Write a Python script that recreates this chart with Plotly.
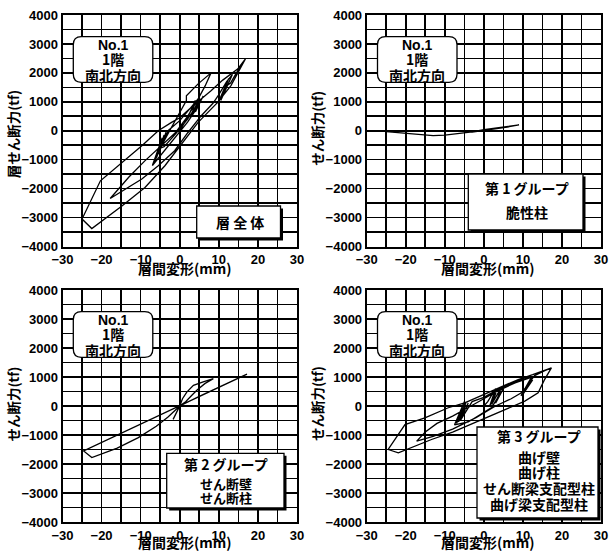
import plotly.graph_objects as go

W, H = 609, 554

# ---------------- data ----------------
x_ticks = [-30, -20, -10, 0, 10, 20, 30]
y_ticks = [-4000, -3000, -2000, -1000, 0, 1000, 2000, 3000, 4000]

# Panel 1: 層全体  (story drift mm, story shear tf)
tl_drift = [0, 2, 4, 3, 5, 4, 6, 4.5, 2, -1, -4, -7, -4.5, -6.5, -4, -6, -3.5, -5.5, -3, 0, 2.5,
            5, 3.5, 5.5, 2, -1, -4, -5, -2.1, 1.7, 1.7, 4.7, 8, 6.5, 4.5, 2, -1, -5, -9, -13,
            -17.8, -9.7, -5.5, -1.3, 2.1, 5.5, 8.5, 10, 12, 13.5, 10.5, 12.5, 9.8, 11.5, 13,
            14.5, 16.8, 14.8, 11, 8, 3.4, 0, -2.1, -5.5, -9.7, -14.8, -20.3, -25, -22.5, -14.8,
            -8.9, -3.8, 0, 4.7, 9.7, 13.1, 16.8]
tl_shear = [0, 450, 1050, 500, 1150, 650, 1200, 800, 300, -200, -700, -1200, -250, -1100, -150,
            -950, -50, -800, 0, 350, 750, 1150, 650, 1100, 400, -100, -550, -600, 120, 1040,
            1210, 1620, 2000, 1550, 1050, 500, -50, -550, -1050, -1600, -2340, -1670, -1210,
            -690, -60, 520, 950, 1250, 1700, 1950, 1050, 1800, 950, 1500, 1650, 2000, 2480,
            2130, 1750, 1380, 865, 450, 290, 0, -520, -1095, -1730, -3050, -3380, -2600, -1960,
            -1210, -520, 290, 980, 1560, 2480]

# Panel 2: 第1グループ 脆性柱
tr_drift = [-25, -20, -16, -13, -10, -6, -3, 0, 3, 6, 9, 6, 3, 0, -3]
tr_shear = [-30, -80, -140, -170, -150, -100, -40, 40, 100, 160, 200, 130, 70, 10, -50]

# Panel 3: 第2グループ せん断壁・せん断柱
bl_drift = [0, 0.7, 1.8, 3.5, 6, 8.6, 6.5, 4.5, 3.1, 1.5, 0, -0.8, -1.7, -1.2, 0, 5, 10, 17.2,
            10, 0, -10, -24.6, -22.5, -16, -10.6, -6, -3, 0]
bl_shear = [0, 250, 480, 710, 830, 940, 780, 560, 370, 150, 0, -200, -460, -300, 0, 330, 650,
            1100, 650, 0, -640, -1550, -1780, -1450, -1090, -700, -380, 0]

# Panel 4: 第3グループ
br_drift = [0, 1, 3, 1.5, 3.5, 2, 4.5, 3, 5, 2, -1, -4, -7.5, -5, -7, -4.5, -6.5, -4, -6, -3, 0,
            4, 8, 12.2, 9.5, 12, 10, 12.5, 9.5, 7, 3, -2, -8, -13, -17.2, -15, -12, -8, -4, 0,
            4, 8, 10.5, 12.5, 11, 13, 15.6, 17.3, 15.5, 13.9, 10.5, 5.4, -2.3, -8, -13.4, -18,
            -21.9, -24.5, -22, -20.2, -15.1, -9.1, -4.9, 1.9, 8.8, 12.5, 15.6, 17.3]
br_shear = [0, 150, 600, 0, 600, 50, 650, 100, 600, -50, -300, -550, -650, 150, -600, 150, -550,
            100, -500, 150, 300, 600, 850, 1000, 350, 950, 400, 900, 450, 250, 0, -400, -800,
            -1050, -1212, -900, -600, -350, -50, 250, 550, 800, 900, 1000, 700, 1050, 1220,
            1317, 900, 454, 167, -121, -580, -900, -1155, -1400, -1615, -1500, -1000, -640,
            -410, -60, 110, 500, 914, 1080, 1220, 1317]

x_title = "層間変形(mm)"
y_titles = ["層せん断力(tf)", "せん断力(tf)", "せん断力(tf)", "せん断力(tf)"]
id_lines = ["No.1", "1階", "南北方向"]
group_texts = [
    ["層 全 体"],
    ["第 1 グループ", "脆性柱"],
    ["第 2 グループ", "せん断壁", "せん断柱"],
    ["第 3 グループ", "曲げ壁", "曲げ柱", "せん断梁支配型柱", "曲げ梁支配型柱"],
]

# ---------------- layout geometry (pixels) ----------------
panels = [
    (62.5, 297.0, 15.0, 246.5),
    (366.7, 601.0, 15.0, 246.5),
    (62.5, 297.0, 290.0, 522.0),
    (366.7, 601.0, 290.0, 522.0),
]

def px(x):
    return x / W

def py(y):
    return 1 - y / H

CJK = "Noto Sans CJK JP"
NUM = "Liberation Sans"

fig = go.Figure()
series = [(tl_drift, tl_shear), (tr_drift, tr_shear), (bl_drift, bl_shear), (br_drift, br_shear)]
for i, (xs, ys) in enumerate(series):
    sfx = "" if i == 0 else str(i + 1)
    fig.add_trace(go.Scatter(x=xs, y=ys, mode="lines", line=dict(color="black", width=1.3),
                             xaxis="x" + sfx, yaxis="y" + sfx, showlegend=False, hoverinfo="skip"))

layout = dict(width=W, height=H, margin=dict(l=0, r=0, t=0, b=0),
              paper_bgcolor="white", plot_bgcolor="white", showlegend=False)

for i, (x0, x1, y0, y1) in enumerate(panels):
    sfx = "" if i == 0 else str(i + 1)
    layout["xaxis" + sfx] = dict(
        domain=[px(x0), px(x1)], range=[-30, 30], anchor="y" + sfx,
        tickvals=x_ticks, ticks="", showgrid=True, gridcolor="black", gridwidth=1.6,
        minor=dict(dtick=5, tick0=0, showgrid=True, gridcolor="black", gridwidth=1.6),
        zeroline=False, showline=True, mirror=True, linecolor="black", linewidth=2,
        tickfont=dict(family=NUM, size=13, color="black", weight="bold"),
        automargin=False, fixedrange=True)
    layout["yaxis" + sfx] = dict(
        domain=[py(y1), py(y0)], range=[-4000, 4000], anchor="x" + sfx,
        tickvals=y_ticks, ticks="", showgrid=True, gridcolor="black", gridwidth=1.6,
        minor=dict(dtick=500, tick0=0, showgrid=True, gridcolor="black", gridwidth=1.6),
        zeroline=False, showline=True, mirror=True, linecolor="black", linewidth=2,
        tickfont=dict(family=NUM, size=13, color="black", weight="bold"),
        automargin=False, fixedrange=True)

shapes = []
annotations = []

def rounded_path(x0, y0, x1, y1, r):
    pts = [
        ("M", x0 + r, y0), ("L", x1 - r, y0), ("Q", x1, y0, x1, y0 + r),
        ("L", x1, y1 - r), ("Q", x1, y1, x1 - r, y1), ("L", x0 + r, y1),
        ("Q", x0, y1, x0, y1 - r), ("L", x0, y0 + r), ("Q", x0, y0, x0 + r, y0),
    ]
    out = []
    for p in pts:
        cmd = p[0]
        coords = p[1:]
        s = cmd + " " + " ".join(
            f"{px(coords[k]):.5f},{py(coords[k + 1]):.5f}" for k in range(0, len(coords), 2))
        out.append(s)
    return " ".join(out) + " Z"

def text(x, y, s, size=14, family=CJK):
    annotations.append(dict(x=px(x), y=py(y), xref="paper", yref="paper", text=s,
                            showarrow=False, xanchor="center", yanchor="middle",
                            font=dict(family=family, size=size, color="black", weight="bold")))

# group boxes (pixels): x0, y0, x1, y1 and text rows (y centers)
group_boxes = [
    (196.7, 206.0, 280.5, 238.0, [222.0]),
    (468.3, 174.0, 583.0, 230.0, [188.0, 211.5]),
    (166.7, 453.3, 284.0, 508.0, [463.5, 483.5, 497.5]),
    (477.0, 427.0, 598.0, 518.0, [435.5, 456.5, 471.5, 488.0, 503.5]),
]
group_sizes = [
    [14], [14, 14], [14, 13, 13], [14, 14, 14, 14, 14],
]

for i, (x0, x1, y0, y1) in enumerate(panels):
    # ID rounded box
    bx0, by0 = x0 + 10.8, y0 + 21.6
    bx1, by1 = bx0 + 79.5, by0 + 45.7
    shapes.append(dict(type="path", path=rounded_path(bx0, by0, bx1, by1, 8),
                       xref="paper", yref="paper", fillcolor="white",
                       line=dict(color="black", width=1.3), layer="above"))
    cx = (bx0 + bx1) / 2
    for s, dy, sz in zip(id_lines, [8.0, 22.5, 38.5], [14, 14, 14]):
        text(cx, by0 + dy, s, size=sz, family=(NUM if s == "No.1" else CJK))

    # group box with shadow
    gx0, gy0, gx1, gy1, rows = group_boxes[i]
    shapes.append(dict(type="rect", xref="paper", yref="paper",
                       x0=px(gx0 + 2.5), x1=px(gx1 + 2.5), y0=py(gy1 + 2.5), y1=py(gy0 + 2.5),
                       fillcolor="black", line=dict(width=0), layer="above"))
    shapes.append(dict(type="rect", xref="paper", yref="paper",
                       x0=px(gx0), x1=px(gx1), y0=py(gy1), y1=py(gy0),
                       fillcolor="white", line=dict(color="black", width=1.3), layer="above"))
    gcx = (gx0 + gx1) / 2 + 1
    for s, ry, sz in zip(group_texts[i], rows, group_sizes[i]):
        text(gcx, ry, s, size=sz)

    # axis titles
    xc = 185.0 if i % 2 == 0 else 488.0
    ty = 267.5 if i < 2 else 542.0
    annotations.append(dict(x=px(xc), y=py(ty), xref="paper", yref="paper", text=x_title,
                            showarrow=False, xanchor="center", yanchor="middle",
                            font=dict(family=CJK, size=14, color="black", weight="bold")))
    yx = 12.5 if i % 2 == 0 else 317.0
    yc = (y0 + y1) / 2 + (4 if i == 0 else -2)
    annotations.append(dict(x=px(yx), y=py(yc), xref="paper", yref="paper", text=y_titles[i],
                            showarrow=False, xanchor="center", yanchor="middle", textangle=-90,
                            font=dict(family=CJK, size=13.5, color="black", weight="bold")))

layout["shapes"] = shapes
layout["annotations"] = annotations
fig.update_layout(**layout)
fig.write_html("out.html", config={"displayModeBar": False, "staticPlot": True},
               post_script="document.body.style.margin='0';document.body.style.overflow='hidden';")
